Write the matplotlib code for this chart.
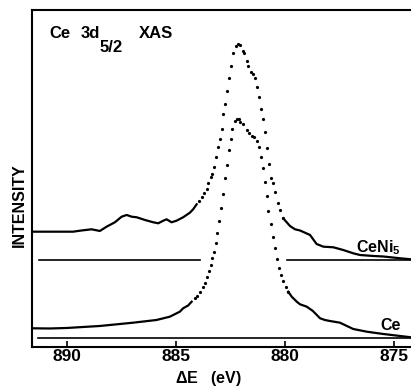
import matplotlib
matplotlib.use("Agg")
import matplotlib.pyplot as plt

plt.rcParams['font.family'] = ['Liberation Sans', 'DejaVu Sans']
plt.rcParams['font.weight'] = 'bold'
plt.rcParams['mathtext.fontset'] = 'custom'
plt.rcParams['mathtext.rm'] = 'Liberation Sans'
plt.rcParams['mathtext.bf'] = 'Liberation Sans:bold'

# CeNi5 spectrum (offset upwards), flat wings drawn as line, peak as dots
ceni5_left_e = [891.61, 890.93, 889.71, 889.40, 888.87, 888.49, 888.18, 887.80, 887.49,
                887.26, 887.03, 886.80, 886.42, 886.04, 885.81, 885.58, 885.43, 885.20,
                884.97, 884.67, 884.36, 884.21, 884.05]
ceni5_left_i = [1.153, 1.153, 1.153, 1.163, 1.177, 1.160, 1.203, 1.247, 1.303,
                1.320, 1.303, 1.297, 1.270, 1.247, 1.237, 1.263, 1.277, 1.247,
                1.263, 1.297, 1.343, 1.377, 1.427]
ceni5_peak_e = [883.93, 883.82, 883.72, 883.59, 883.52, 883.41, 883.35, 883.24, 883.15,
                883.06, 882.97, 882.90, 882.83, 882.77, 882.66, 882.57, 882.48, 882.37,
                882.25, 882.14, 882.06, 881.91, 881.87, 881.76, 881.68, 881.56, 881.45,
                881.38, 881.30, 881.19, 881.09, 881.00, 880.90, 880.81, 880.72, 880.63,
                880.56, 880.44, 880.33, 880.23, 880.08]
ceni5_peak_i = [1.463, 1.503, 1.537, 1.580, 1.637, 1.697, 1.730, 1.797, 1.900,
                1.997, 2.083, 2.180, 2.330, 2.430, 2.563, 2.690, 2.810, 2.937,
                3.010, 3.030, 3.020, 2.960, 2.937, 2.863, 2.810, 2.750, 2.727,
                2.687, 2.603, 2.497, 2.377, 2.283, 2.150, 1.987, 1.827, 1.693,
                1.637, 1.547, 1.437, 1.370, 1.287]
ceni5_right_e = [880.08, 879.92, 879.77, 879.54, 879.31, 878.85, 878.55, 878.24, 877.78,
                 877.33, 876.87, 876.56, 875.95, 875.49, 874.72, 874.22]
ceni5_right_i = [1.287, 1.247, 1.210, 1.177, 1.165, 1.120, 1.030, 1.003, 0.997,
                 0.970, 0.937, 0.920, 0.910, 0.905, 0.887, 0.877]

# Ce metal spectrum
ce_left_e = [891.62, 890.78, 890.01, 888.49, 886.96, 885.89, 885.28, 884.82, 884.67,
             884.44, 884.28]
ce_left_i = [0.187, 0.185, 0.190, 0.210, 0.243, 0.270, 0.303, 0.353, 0.387,
             0.415, 0.453]
ce_peak_e = [884.13, 884.02, 883.90, 883.78, 883.67, 883.56, 883.47, 883.41, 883.33,
             883.24, 883.18, 883.11, 883.01, 882.94, 882.83, 882.75, 882.67, 882.57,
             882.49, 882.42, 882.29, 882.22, 882.13, 882.06, 881.91, 881.76, 881.64,
             881.53, 881.41, 881.30, 881.19, 881.11, 881.02, 880.92, 880.84, 880.77,
             880.66, 880.56, 880.46, 880.37, 880.28, 880.18, 880.08, 879.95, 879.85]
ce_peak_i = [0.487, 0.510, 0.553, 0.597, 0.637, 0.703, 0.760, 0.820, 0.887,
             0.953, 1.037, 1.137, 1.260, 1.393, 1.527, 1.687, 1.823, 1.970,
             2.080, 2.183, 2.263, 2.280, 2.275, 2.253, 2.227, 2.170, 2.137,
             2.110, 2.097, 2.063, 1.997, 1.900, 1.793, 1.653, 1.513, 1.363,
             1.230, 1.103, 0.987, 0.877, 0.787, 0.720, 0.660, 0.603, 0.553]
ce_right_e = [879.85, 879.69, 879.46, 879.31, 879.00, 878.72, 878.39, 878.17, 877.94,
              877.48, 877.16, 876.87, 876.25, 875.49, 874.72, 874.22]
ce_right_i = [0.553, 0.503, 0.453, 0.427, 0.403, 0.360, 0.287, 0.270, 0.260,
              0.243, 0.210, 0.180, 0.153, 0.130, 0.110, 0.097]

# baselines
ceni5_base = 0.865
ceni5_base_segs = [(891.28, 883.90), (879.91, 874.22)]
ce_base = 0.09
ce_base_seg = (891.33, 874.22)

xticks = [890, 885, 880, 875]

W, H = 411, 387
fig = plt.figure(figsize=(W / 100, H / 100), dpi=100)
ax = fig.add_axes([0.0779, 0.1034, 0.9221, 0.8708])

for l, r in ceni5_base_segs:
    ax.plot([l, r], [ceni5_base, ceni5_base], color='black', lw=1.2)
ax.plot(list(ce_base_seg), [ce_base, ce_base], color='black', lw=1.2)

for e, i in [(ceni5_left_e, ceni5_left_i), (ceni5_right_e, ceni5_right_i),
             (ce_left_e, ce_left_i), (ce_right_e, ce_right_i)]:
    ax.plot(e, i, color='black', lw=1.6)
for e, i in [(ceni5_peak_e, ceni5_peak_i), (ce_peak_e, ce_peak_i)]:
    ax.plot(e, i, 'o', color='black', ms=2.3, mew=0)

ax.set_xlim(891.6, 874.22)
ax.set_ylim(0, 3.37)
ax.set_xticks(xticks)
ax.set_yticks([])
ax.tick_params(axis='x', direction='in', length=4, width=1.2, pad=1.5, labelsize=12.5)
for s in ['left', 'top', 'bottom']:
    ax.spines[s].set_linewidth(1.5)
ax.spines['right'].set_visible(False)

# title pieces: "Ce 3d" + lowered "5/2" + "XAS"
fig.text(49 / W, 1 - 38 / H, "Ce", fontsize=12, fontweight='bold', va='baseline')
fig.text(81 / W, 1 - 38 / H, "3d", fontsize=12, fontweight='bold', va='baseline')
fig.text(100 / W, 1 - 52 / H, "5/2", fontsize=12, fontweight='bold', va='baseline')
fig.text(139 / W, 1 - 38 / H, "XAS", fontsize=12, fontweight='bold', va='baseline')

ax.text(876.74, 0.95, r"CeNi$_{\mathbf{5}}$", fontsize=11.5, fontweight='bold', va='baseline')
ax.text(875.64, 0.17, "Ce", fontsize=11.5, fontweight='bold', va='baseline')

fig.text(208 / W, 1 - 378 / H, r"$\mathbf{\Delta}$E   (eV)", fontsize=11.5,
         fontweight='bold', ha='center', va='center')
fig.text(19 / W, 1 - 205 / H, "INTENSITY", fontsize=11.5, fontweight='bold',
         rotation=90, ha='center', va='center')

fig.savefig("out.png", dpi=100)
